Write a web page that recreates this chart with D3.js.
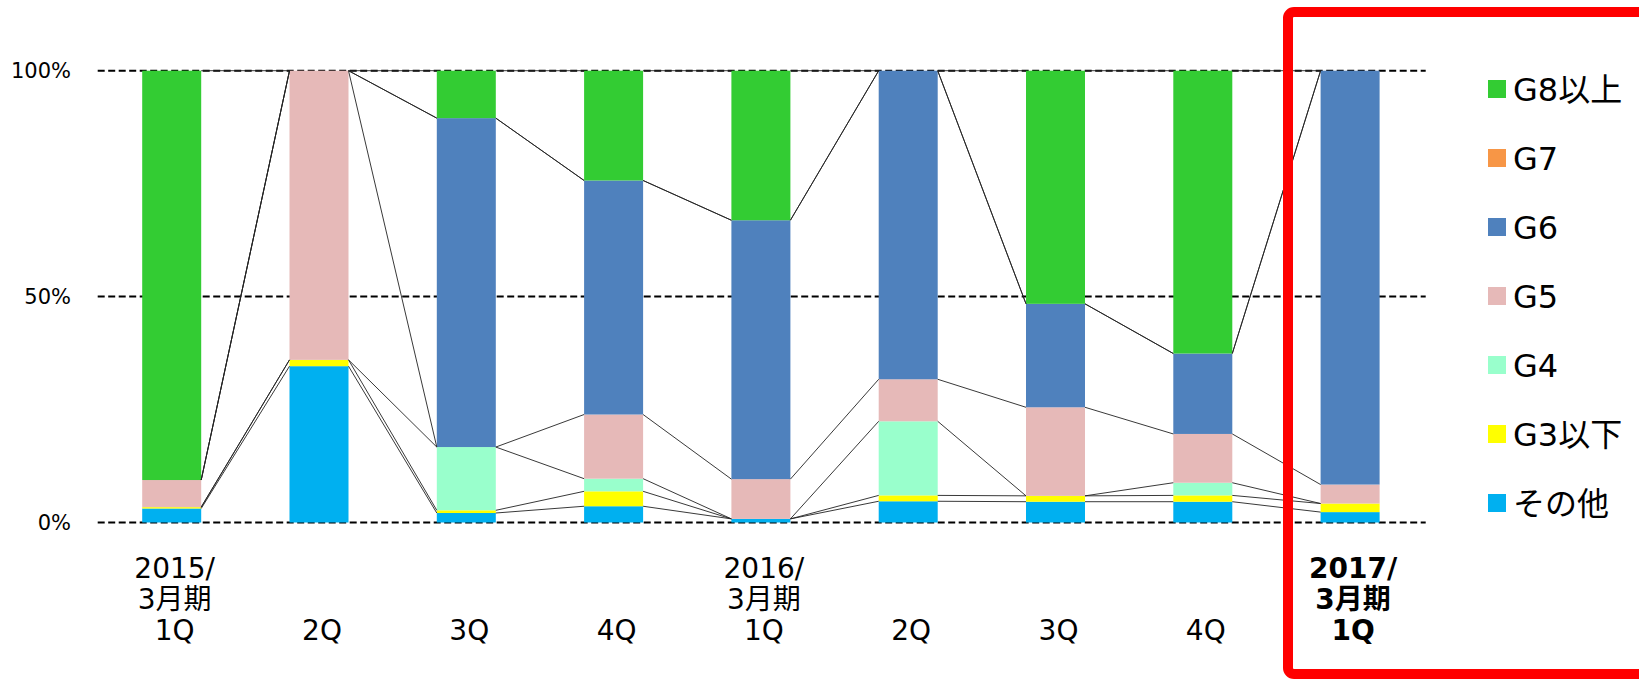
<!DOCTYPE html>
<html>
<head>
<meta charset="utf-8">
<script src="https://cdn.jsdelivr.net/npm/d3@7"></script>
<style>
    body { margin: 0; background: #fff; }
    text { font-family: "DejaVu Sans", "Noto Sans CJK JP", sans-serif; fill: #000; }
</style>
</head>
<body>
<script>
// カテゴリ (x軸ラベルは改行ごとに分割)
var categories = ['2015/3月期1Q', '2015/3月期2Q', '2015/3月期3Q', '2015/3月期4Q',
    '2016/3月期1Q', '2016/3月期2Q', '2016/3月期3Q', '2016/3月期4Q', '2017/3月期1Q']
var categoryLines = [
    ['2015/', '3月期', '1Q'], ['2Q'], ['3Q'], ['4Q'],
    ['2016/', '3月期', '1Q'], ['2Q'], ['3Q'], ['4Q'],
    ['2017/', '3月期', '1Q']
]
var highlightIndex = 8

// 系列 (下から上の順)
var seriesNames = ['その他', 'G3以下', 'G4', 'G5', 'G6', 'G7', 'G8以上']
var valuesOther = [3.1, 34.6, 2.1, 3.6, 0.8, 4.7, 4.6, 4.6, 2.3]
var valuesG3 = [0.3, 1.4, 0.6, 3.3, 0, 1.3, 1.3, 1.4, 1.9]
var valuesG4 = [0, 0, 14.0, 2.8, 0, 16.4, 0, 2.8, 0]
var valuesG5 = [6.0, 64.0, 0, 14.2, 8.8, 9.3, 19.6, 10.8, 4.2]
var valuesG6 = [0, 0, 72.8, 51.8, 57.3, 68.3, 22.9, 17.8, 91.6]
var valuesG7 = [0, 0, 0, 0, 0, 0, 0, 0, 0]
var valuesG8 = [90.6, 0, 10.5, 24.3, 33.1, 0, 51.6, 62.6, 0]
var seriesValues = [valuesOther, valuesG3, valuesG4, valuesG5, valuesG6, valuesG7, valuesG8]
var seriesColors = ['#00b0f0', '#ffff00', '#99ffcc', '#e6b9b8', '#4f81bd', '#f79646', '#33cc33']

var yTicks = [0, 50, 100]

var width = 1639
var height = 680
var barWidth = 59

var svg = d3.select('body')
    .append('svg')
    .attr('width', width)
    .attr('height', height)

var rows = categories.map(function (c, i) {
    var row = { id: c }
    seriesNames.forEach(function (s, k) { row[s] = seriesValues[k][i] })
    return row
})

var stacked = d3.stack().keys(seriesNames)(rows)

var x = d3.scalePoint()
    .domain(categories)
    .range([171.7, 1350.1])

var y = d3.scaleLinear()
    .domain([0, 100])
    .range([522.5, 70.7])

var colors = d3.scaleOrdinal()
    .domain(seriesNames)
    .range(seriesColors)

// グリッド線
svg.append('g')
    .attr('class', 'grid')
    .selectAll('line')
    .data(yTicks)
    .enter()
    .append('line')
    .attr('x1', 97.7)
    .attr('x2', 1425.7)
    .attr('y1', d => y(d))
    .attr('y2', d => y(d))
    .attr('stroke', '#000')
    .attr('stroke-width', 2)
    .attr('stroke-dasharray', '7,3.5')

svg.append('g')
    .attr('class', 'y-labels')
    .selectAll('text')
    .data(yTicks)
    .enter()
    .append('text')
    .attr('x', 71)
    .attr('y', d => y(d))
    .attr('dy', '0.36em')
    .attr('text-anchor', 'end')
    .style('font-size', '21px')
    .text(d => d + '%')

// 積み上げ棒
var layers = svg.append('g')
    .attr('class', 'bars')
    .selectAll('g')
    .data(stacked)
    .enter()
    .append('g')
    .attr('fill', d => colors(d.key))

layers.selectAll('rect')
    .data(d => d)
    .enter()
    .append('rect')
    .attr('x', d => x(d.data.id) - barWidth / 2)
    .attr('width', barWidth)
    .attr('y', d => y(d[1]))
    .attr('height', d => y(d[0]) - y(d[1]))

// 区分線 (各系列の上端を隣の棒とつなぐ)
var seriesLines = []
stacked.forEach(function (layer) {
    for (var i = 0; i < layer.length - 1; i++) {
        seriesLines.push({ from: layer[i], to: layer[i + 1] })
    }
})

svg.append('g')
    .attr('class', 'series-lines')
    .selectAll('line')
    .data(seriesLines)
    .enter()
    .append('line')
    .attr('x1', d => x(d.from.data.id) + barWidth / 2)
    .attr('y1', d => y(d.from[1]))
    .attr('x2', d => x(d.to.data.id) - barWidth / 2)
    .attr('y2', d => y(d.to[1]))
    .attr('stroke', '#222')
    .attr('stroke-width', 0.9)

// x軸ラベル
var xLabels = svg.append('g')
    .attr('class', 'x-labels')
    .selectAll('text')
    .data(categoryLines)
    .enter()
    .append('text')
    .attr('text-anchor', 'middle')
    .style('font-size', '28px')
    .style('font-weight', (d, i) => i === highlightIndex ? 'bold' : 'normal')

xLabels.selectAll('tspan')
    .data((d, i) => d.map(function (t, j) {
        return { text: t, row: j + 3 - d.length, cat: categories[i] }
    }))
    .enter()
    .append('tspan')
    .attr('x', d => x(d.cat) + 3)
    .attr('y', d => 578 + d.row * 31)
    .text(d => d.text)

// 凡例 (上から G8以上 → その他)
var legend = svg.append('g')
    .attr('class', 'legend')
    .selectAll('g')
    .data(seriesNames.slice().reverse())
    .enter()
    .append('g')
    .attr('transform', (d, i) => 'translate(1488,' + (89 + i * 69) + ')')

legend.append('rect')
    .attr('x', 0)
    .attr('y', -9)
    .attr('width', 18)
    .attr('height', 18)
    .attr('fill', d => colors(d))

legend.append('text')
    .attr('x', 25)
    .attr('y', 0)
    .attr('dy', '0.36em')
    .style('font-size', '32px')
    .text(d => d)

// 強調枠
svg.append('rect')
    .attr('x', 1288)
    .attr('y', 12)
    .attr('width', 420)
    .attr('height', 662)
    .attr('rx', 6)
    .attr('fill', 'none')
    .attr('stroke', '#ff0000')
    .attr('stroke-width', 10)
</script>
</body>
</html>
